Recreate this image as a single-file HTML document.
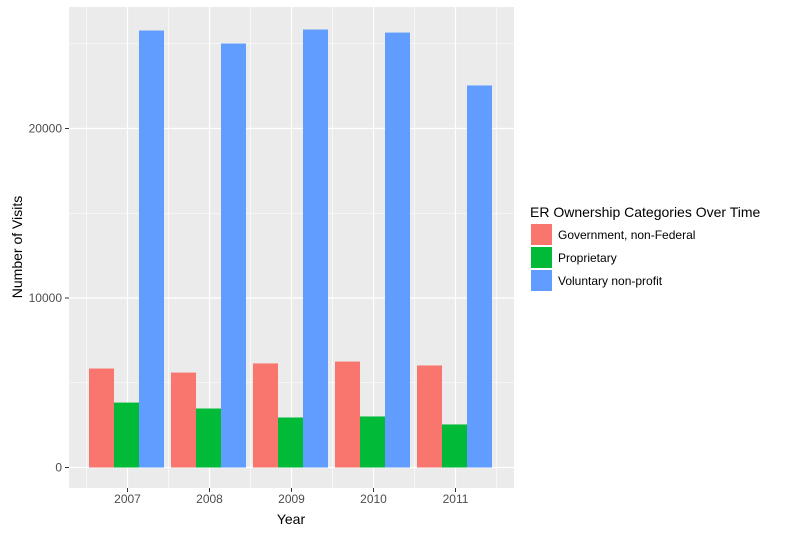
<!DOCTYPE html>
<html><head><meta charset="utf-8"><style>
body{margin:0;background:#fff;}
svg{display:block;font-family:"Liberation Sans",sans-serif;}
</style></head><body>
<svg width="800" height="534" id="svg">
<rect x="69" y="7" width="445" height="481" fill="#ebebeb"/>
<g id="grid"></g><g id="bars"></g><g id="axes"></g>
<text x="145" y="0" transform="translate(22,247) rotate(-90)" text-anchor="middle" font-size="14" fill="#000"><tspan x="0" y="0">Number of Visits</tspan></text>
<text x="291" y="524" text-anchor="middle" font-size="14" fill="#000">Year</text>
<g>
<text x="530" y="217" font-size="14" fill="#000">ER Ownership Categories Over Time</text>
<g id="legend"></g>
</g>
</svg>
<script>
const years=["2007","2008","2009","2010","2011"];
const govt=[5840,5600,6140,6250,6020];
const prop=[3830,3480,2950,3010,2540];
const vol=[25780,25010,25840,25660,22540];
const yTicks=[0,10000,20000];
const yMinor=[5000,15000,25000];
const seriesNames=["Government, non-Federal","Proprietary","Voluntary non-profit"];
const colors=["#f8766d","#00ba38","#619cff"];
const NS="http://www.w3.org/2000/svg";
const y=v=>467.5-v*0.01695;
const x=i=>127.5+i*82;
function mk(t,a,p){const e=document.createElementNS(NS,t);for(const k in a)e.setAttribute(k,a[k]);p.appendChild(e);return e;}
const grid=document.getElementById('grid'),bars=document.getElementById('bars'),axes=document.getElementById('axes'),leg=document.getElementById('legend');
yMinor.forEach(v=>{const l=mk('line',{x1:69,x2:514,y1:y(v),y2:y(v),stroke:'#fff','stroke-width':0.6},grid);

});
for(let i=0;i<=years.length;i++){const xx=x(i)-41;const l=mk('line',{x1:xx,x2:xx,y1:7,y2:488,stroke:'#fff','stroke-width':0.6},grid);

}
yTicks.forEach(v=>{const l=mk('line',{x1:69,x2:514,y1:y(v),y2:y(v),stroke:'#fff','stroke-width':1.2},grid);


const t=mk('line',{x1:65,x2:69,y1:y(v),y2:y(v),stroke:'#333'},axes);


const tx=mk('text',{x:62,y:y(v)+4,'text-anchor':'end','font-size':12,fill:'#4d4d4d'},axes);tx.textContent=v;

});
years.forEach((yr,i)=>{const l=mk('line',{x1:x(i),x2:x(i),y1:7,y2:488,stroke:'#fff','stroke-width':1.2},grid);


const t=mk('line',{x1:x(i),x2:x(i),y1:488,y2:492,stroke:'#333'},axes);


const tx=mk('text',{x:x(i),y:503,'text-anchor':'middle','font-size':12,fill:'#4d4d4d'},axes);tx.textContent=yr;

});
[govt,prop,vol].forEach((s,j)=>{s.forEach((v,i)=>{const r=mk('rect',{x:x(i)-38.5+j*25,y:y(v),width:25,height:y(0)-y(v),fill:colors[j]},bars);

});});
seriesNames.forEach((n,j)=>{const r=mk('rect',{x:531,y:224+j*23,width:21,height:21,fill:colors[j]},leg);


const t=mk('text',{x:558,y:239+j*23,'font-size':12,fill:'#000'},leg);t.textContent=n;

});
</script>
</body></html>
